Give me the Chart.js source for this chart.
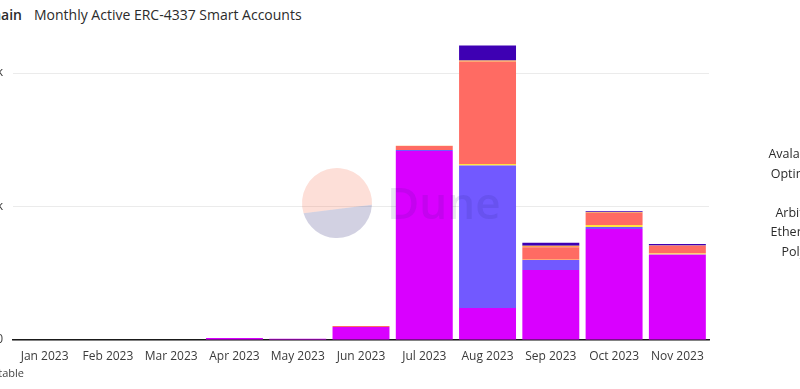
<!DOCTYPE html>
<html>
<head>
<meta charset="utf-8">
<script src="https://cdn.jsdelivr.net/npm/chart.js@4.4.0/dist/chart.umd.min.js"></script>
<style>
    html, body { margin: 0; padding: 0; width: 800px; height: 389px; overflow: hidden; background: #fff; font-family: "Open Sans", sans-serif; color: #2b2b2b; }
    #wrap { position: absolute; left: -27px; top: 0; width: 827px; height: 389px; }
    .head { position: absolute; top: 5px; font-size: 14px; white-space: nowrap; }
    #chain { right: 778px; font-weight: 600; }
    #title { left: 34px; }
    #legend { position: absolute; left: 640px; top: 144px; width: 188px; }
    #legend div { text-align: right; font-size: 12.5px; height: 19.5px; line-height: 19.5px; white-space: nowrap; }
    #foot { position: absolute; right: 776px; top: 365px; font-size: 11px; color: #444; white-space: nowrap; }
</style>
</head>
<body>
<div class="head" id="chain">Chain</div>
<div class="head" id="title">Monthly Active ERC-4337 Smart Accounts</div>
<div id="wrap"><canvas id="chart" width="827" height="389"></canvas></div>
<div id="legend"></div>
<div id="foot">Data table</div>
<script>
// Months on the x axis
const months = ['Jan 2023', 'Feb 2023', 'Mar 2023', 'Apr 2023', 'May 2023', 'Jun 2023',
                'Jul 2023', 'Aug 2023', 'Sep 2023', 'Oct 2023', 'Nov 2023'];

// Active accounts per chain (bottom of stack first)
const polygon   = [0, 0, 0, 1500, 900, 9700, 141600, 24000, 52400, 83100, 63900];
const ethereum  = [0, 0, 0, 0, 0, 100, 700, 106800, 7500, 1500, 200];
const arbitrum  = [0, 0, 0, 0, 0, 0, 100, 1100, 300, 1500, 750];
const base      = [0, 0, 0, 0, 0, 600, 3000, 76500, 9200, 9000, 5800];
const optimism  = [0, 0, 0, 0, 0, 0, 100, 1000, 1200, 700, 200];
const avalanche = [0, 0, 0, 0, 0, 0, 0, 11200, 2200, 750, 1000];

const yTicks = [0, 100000, 200000];

const series = [
    { label: 'Polygon',   data: polygon,   color: '#d900ff' },
    { label: 'Ethereum',  data: ethereum,  color: '#7259ff' },
    { label: 'Arbitrum',  data: arbitrum,  color: '#ffe53d' },
    { label: 'Base',      data: base,      color: '#ff6b63' },
    { label: 'Optimism',  data: optimism,  color: '#ffa64d' },
    { label: 'Avalanche', data: avalanche, color: '#3e00b3' }
];

// Legend on the right, top entry is the top of the stack
const legend = document.getElementById('legend');
series.slice().reverse().forEach(s => {
    legend.insertAdjacentHTML('beforeend', `<div>${s.label}</div>`);
});

// Faded Dune logo over the plot
const watermark = {
    id: 'watermark',
    afterDatasetsDraw(chart) {
        const ctx = chart.ctx;
        const cx = 364, cy = 203, r = 35;
        ctx.save();
        ctx.globalAlpha = 0.2;
        ctx.fillStyle = '#f4603e';
        ctx.beginPath();
        ctx.arc(cx, cy, r, Math.PI - 0.3, 0.05, false);
        ctx.closePath();
        ctx.fill();
        ctx.fillStyle = '#1e1870';
        ctx.beginPath();
        ctx.arc(cx, cy, r, 0.05, Math.PI - 0.3, false);
        ctx.closePath();
        ctx.fill();
        ctx.globalAlpha = 0.11;
        ctx.fillStyle = '#1e1870';
        ctx.font = '600 44px "Open Sans"';
        ctx.textBaseline = 'alphabetic';
        ctx.fillText('Dune', 414, 219);
        ctx.restore();
    }
};

const ctx = document.getElementById('chart').getContext('2d');
new Chart(ctx, {
    type: 'bar',
    data: {
        labels: months,
        datasets: series.map(s => ({
            label: s.label,
            data: s.data,
            backgroundColor: s.color,
            borderWidth: 0,
            barPercentage: 0.9,
            categoryPercentage: 1
        }))
    },
    options: {
        responsive: false,
        animation: false,
        layout: { padding: { top: 33, right: 91, left: 0, bottom: 0 } },
        plugins: {
            legend: { display: false },
            tooltip: { enabled: false }
        },
        scales: {
            x: {
                stacked: true,
                grid: { display: false, drawTicks: false },
                border: { display: true, color: '#1a1a1a', width: 1.5 },
                ticks: { color: '#3a3a3a', font: { family: 'Open Sans', size: 12 }, padding: 9, maxRotation: 0 },
                afterFit(scale) { scale.height = 49; }
            },
            y: {
                stacked: true,
                min: 0,
                max: 230000,
                grid: { color: '#ebebeb', lineWidth: 1, drawTicks: false },
                border: { display: false },
                ticks: {
                    color: '#3a3a3a',
                    font: { family: 'Open Sans', size: 12 },
                    padding: 10,
                    callback: v => v === 0 ? '0' : (v / 1000) + 'k'
                },
                afterBuildTicks(scale) { scale.ticks = yTicks.map(v => ({ value: v })); },
                afterFit(scale) { scale.width = 40; }
            }
        }
    },
    plugins: [watermark]
});
</script>
</body>
</html>
